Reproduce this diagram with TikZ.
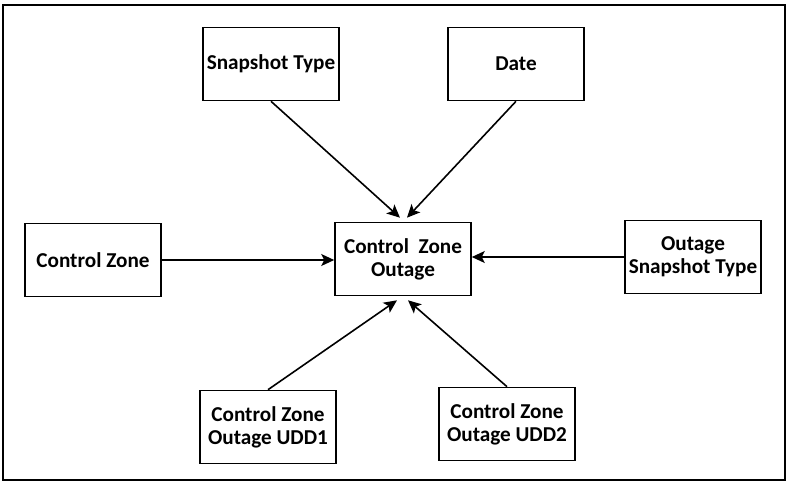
\documentclass[tikz,border=0pt]{standalone}
\usepackage{fontspec}
\setmainfont{Carlito}
\usepackage{tikz}
\usetikzlibrary{shapes.geometric, arrows, arrows.meta}
\tikzstyle{arrow} = [line width=0.8pt,-{Stealth[length=6.5pt,width=6pt,inset=1.5pt]}]
\tikzstyle{entity} = [draw, line width=0.8pt, minimum width=68pt, minimum height=36.5pt, align=center, inner sep=1pt, font=\fontsize{10.6}{11.5}\selectfont\bfseries]

\begin{document}
\begin{tikzpicture}[x=0.5pt, y=-0.5pt]
	\useasboundingbox (0,0) rectangle (789,483);
	\draw [line width=1.2pt] (3,5) rectangle (785,480);
	\node[entity] (czo) at (403,259) {Control\ \ Zone\\Outage};
	\node[entity] (st) at (271,64) {Snapshot Type};
	\node[entity] (dt) at (516,64) {Date};
	\node[entity] (cz) at (93,260) {Control Zone};
	\node[entity] (ost) at (693,257) {Outage\\Snapshot Type};
	\node[entity] (udd1) at (268,427) {Control Zone\\Outage UDD1};
	\node[entity] (udd2) at (507,424) {Control Zone\\Outage UDD2};
	\draw [arrow] (st.south) -- ([xshift=-1.5pt,yshift=2pt]czo.north);
	\draw [arrow] (dt.south) -- ([xshift=2pt,yshift=2pt]czo.north);
	\draw [arrow] (cz.east) -- (cz.east -| czo.west);
	\draw [arrow] (ost.west) -- (ost.west -| czo.east);
	\draw [arrow] (udd1.north) -- ([xshift=-3pt,yshift=-2pt]czo.south);
	\draw [arrow] (udd2.north) -- ([xshift=2.5pt,yshift=-2pt]czo.south);
	\end{tikzpicture}
\end{document}
